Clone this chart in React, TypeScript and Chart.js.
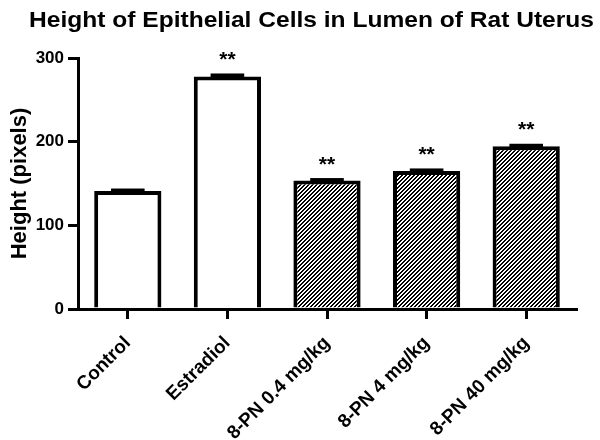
import { useEffect, useRef } from 'react';
import { Chart, registerables } from 'chart.js';

Chart.register(...registerables);

// ---- data ----
const categories = ['Control', 'Estradiol', '8-PN 0.4 mg/kg', '8-PN 4 mg/kg', '8-PN 40 mg/kg'];
const meanHeights = [141, 278, 153.5, 165, 194.5];
const semHeights = [3, 3.5, 3, 3, 3];
const significance = ['', '**', '**', '**', '**'];
const treatmentType = ['control', 'estradiol', '8-PN', '8-PN', '8-PN'];
const yMin = 0;
const yMax = 300;
const yStep = 100;

const TITLE = 'Height of Epithelial Cells in Lumen of Rat Uterus';
const Y_TITLE = 'Height (pixels)';
const FONT = '"Liberation Sans", Arial, Helvetica, sans-serif';

function makeHatch(target: CanvasRenderingContext2D): CanvasPattern | string {
  const tile = document.createElement('canvas');
  tile.width = 4;
  tile.height = 4;
  const tctx = tile.getContext('2d');
  if (!tctx) return '#888';
  const img = tctx.createImageData(4, 4);
  for (let y = 0; y < 4; y++) {
    for (let x = 0; x < 4; x++) {
      const on = (x + y) % 4 < 2;
      const v = on ? 0 : 255;
      const i = (y * 4 + x) * 4;
      img.data[i] = v;
      img.data[i + 1] = v;
      img.data[i + 2] = v;
      img.data[i + 3] = 255;
    }
  }
  tctx.putImageData(img, 0, 0);
  return target.createPattern(tile, 'repeat') || '#888';
}

const whiteBg = {
  id: 'whiteBg',
  beforeDraw(chart: any) {
    const { ctx, width, height } = chart;
    ctx.save();
    ctx.fillStyle = '#fff';
    ctx.fillRect(0, 0, width, height);
    ctx.restore();
  },
};

const stretchedTitle = {
  id: 'stretchedTitle',
  afterDraw(chart: any) {
    const ctx = chart.ctx as CanvasRenderingContext2D;
    ctx.save();
    ctx.font = `bold 22px ${FONT}`;
    const w = ctx.measureText(TITLE).width;
    const targetW = 565;
    ctx.translate(311.5, 27);
    ctx.scale(targetW / w, 1);
    ctx.textAlign = 'center';
    ctx.textBaseline = 'alphabetic';
    ctx.fillStyle = '#000';
    ctx.fillText(TITLE, 0, 0);
    ctx.restore();
  },
};

const errorAndStars = {
  id: 'errorAndStars',
  afterDatasetsDraw(chart: any) {
    const ctx = chart.ctx as CanvasRenderingContext2D;
    const yScale = chart.scales.y;
    const meta = chart.getDatasetMeta(0);
    ctx.save();
    ctx.fillStyle = '#000';
    meta.data.forEach((bar: any, i: number) => {
      const top = yScale.getPixelForValue(meanHeights[i]);
      const errTop = yScale.getPixelForValue(meanHeights[i] + semHeights[i]);
      const half = bar.width / 4;
      ctx.fillRect(bar.x - half, errTop, half * 2, top - errTop + 2);
      if (significance[i]) {
        ctx.font = `bold 21px ${FONT}`;
        ctx.textAlign = 'center';
        ctx.textBaseline = 'alphabetic';
        ctx.fillText(significance[i], bar.x, top - 10);
      }
    });
    ctx.restore();
  },
};

export default function App() {
  const canvasRef = useRef<HTMLCanvasElement | null>(null);

  useEffect(() => {
    const canvas = canvasRef.current;
    if (!canvas) return;
    const ctx = canvas.getContext('2d');
    if (!ctx) return;
    const hatch = makeHatch(ctx);
    const fills = treatmentType.map((t) => (t === '8-PN' ? hatch : '#ffffff'));

    const chart = new Chart(canvas, {
      type: 'bar',
      data: {
        labels: categories,
        datasets: [
          {
            data: meanHeights,
            backgroundColor: fills as any,
            borderColor: '#000',
            borderWidth: 4,
            borderSkipped: 'start',
            barPercentage: 0.675,
            categoryPercentage: 1,
          },
        ],
      },
      options: {
        responsive: false,
        maintainAspectRatio: false,
        animation: false,
        devicePixelRatio: 1,
        layout: { padding: { top: 58, left: 0, right: 24, bottom: 0 } },
        plugins: {
          legend: { display: false },
          title: { display: false },
          tooltip: { enabled: false },
        },
        scales: {
          x: {
            offset: true,
            afterFit(scale: any) {
              scale.height = 131;
            },
            grid: {
              offset: false,
              drawOnChartArea: false,
              drawTicks: true,
              tickLength: 10,
              lineWidth: 3,
              color: '#000',
            },
            border: { display: true, color: '#000', width: 3 },
            ticks: {
              color: '#000',
              font: { family: FONT, size: 19, weight: 'bold' },
              minRotation: 45,
              maxRotation: 45,
              padding: 13,
              autoSkip: false,
            },
          },
          y: {
            min: yMin,
            max: yMax,
            afterFit(scale: any) {
              scale.width = 78;
            },
            grid: {
              drawOnChartArea: false,
              drawTicks: true,
              tickLength: 10,
              lineWidth: 3,
              color: '#000',
            },
            border: { display: true, color: '#000', width: 3 },
            ticks: {
              stepSize: yStep,
              color: '#000',
              padding: 4,
              font: { family: FONT, size: 17, weight: 'bold' },
            },
            title: {
              display: true,
              text: Y_TITLE,
              color: '#000',
              font: { family: FONT, size: 22, weight: 'bold' },
              padding: { top: 7, bottom: 0 },
            },
          },
        },
      },
      plugins: [whiteBg, errorAndStars, stretchedTitle],
    });
    return () => chart.destroy();
  }, []);

  return (
    <div style={{ position: 'fixed', left: 0, top: 0, width: 600, height: 440, background: '#fff' }}>
      <canvas ref={canvasRef} width={600} height={440} style={{ display: 'block' }} />
    </div>
  );
}
